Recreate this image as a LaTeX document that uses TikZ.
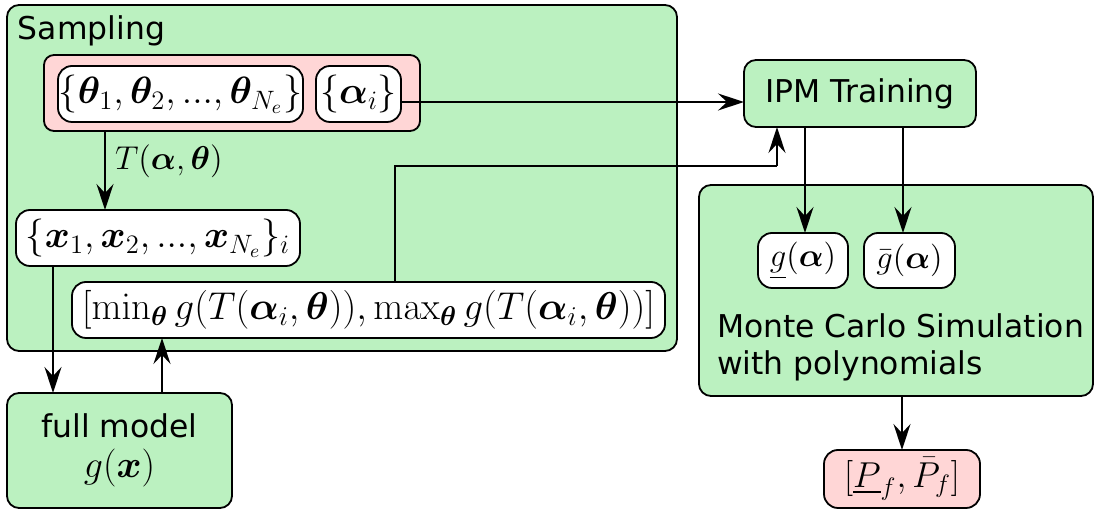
\RequirePackage{fix-cm}
\documentclass[tikz,border=0pt]{standalone}
\usepackage{amsmath,bm}
\usepackage[no-math]{fontspec}
\setmainfont{DejaVu Sans}
\usetikzlibrary{arrows.meta}
\definecolor{boxgreen}{RGB}{187,241,192}
\definecolor{boxpink}{RGB}{255,214,214}
\tikzset{
  px/.style={x=0.5pt,y=-0.5pt},
  frame/.style={draw, line width=0.9pt, rounded corners=6pt, inner sep=0pt, outer sep=0pt},
  greenbox/.style={frame, fill=boxgreen},
  pinkbox/.style={frame, fill=boxpink, rounded corners=5pt},
  whitebox/.style={frame, fill=white, rounded corners=7pt},
  bigmath/.style={font=\fontsize{19}{23}\selectfont},
  txt/.style={inner sep=0pt, outer sep=0pt},
  arr/.style={line width=0.9pt, -{Stealth[length=13pt,width=8.5pt,inset=4.5pt]}},
  conn/.style={line width=0.9pt},
}
\begin{document}
\begin{tikzpicture}[px, font=\fontsize{15.7}{19}\selectfont]
\useasboundingbox (0,0) rectangle (1094,512);

% sampling stage
\node[greenbox, minimum width=335pt, minimum height=173pt] (samp) at (342,178) {};
\node[txt, anchor=base west] (samplbl) at (18,40) {Sampling};
\node[pinkbox, minimum width=188pt, minimum height=38pt] (pink) at (232,93) {};
\node[whitebox, bigmath, minimum width=122.5pt, minimum height=28pt] (theta) at (180.5,94)
  {$\{\bm{\theta}_1,\bm{\theta}_2,...,\bm{\theta}_{N_e}\}$};
\node[whitebox, bigmath, minimum width=42.5pt, minimum height=28pt] (alpha) at (358.5,94)
  {$\{\bm{\alpha}_i\}$};
\node[whitebox, bigmath, minimum width=142pt, minimum height=28pt] (xset) at (158,238)
  {$\{\bm{x}_1,\bm{x}_2,...,\bm{x}_{N_e}\}_i$};
\node[whitebox, font=\fontsize{19.4}{23}\selectfont, minimum width=296.5pt, minimum height=28pt] (mm) at (368.5,310)
  {$[\min_{\bm{\theta}} g(T(\bm{\alpha}_i,\bm{\theta})),\max_{\bm{\theta}} g(T(\bm{\alpha}_i,\bm{\theta}))]$};

% full model
\node[greenbox, minimum width=112.5pt, minimum height=57.5pt, align=center] (full) at (119.5,450.5)
  {full model\\[1pt]{\fontsize{19}{23}\selectfont$g(\bm{x})$}};

% surrogate training and simulation
\node[greenbox, minimum width=116pt, minimum height=33.5pt] (ipm) at (860,93.5) {IPM Training};
\node[greenbox, minimum width=197pt, minimum height=105.5pt] (mc) at (896,290.5) {};
\node[whitebox, font=\fontsize{16.3}{20}\selectfont, minimum width=45pt, minimum height=27.5pt] (glow) at (803,260.5)
  {$\underline{g}(\bm{\alpha})$};
\node[whitebox, font=\fontsize{16.3}{20}\selectfont, minimum width=45.5pt, minimum height=27.5pt] (gup) at (909.5,260.5)
  {$\bar{g}(\bm{\alpha})$};
\node[txt, anchor=base west] (mcl1) at (717,338) {Monte Carlo Simulation};
\node[txt, anchor=base west] (mcl2) at (717,375) {with polynomials};
\node[pinkbox, rounded corners=7pt, font=\fontsize{18}{22}\selectfont, minimum width=78pt, minimum height=29pt] (pf) at (902,479)
  {$[\underline{P}_f,\bar{P}_f]$};

% connector guide points
\coordinate (xT) at (105,0);
\coordinate (xdown) at (53,0);
\coordinate (xup) at (162,0);
\coordinate (xfb) at (395,0);
\coordinate (fbcorner) at (777,166);
\coordinate (yalpha) at (0,102);
\coordinate (xlow) at (805,0);
\coordinate (xhigh) at (903,0);
\coordinate (xpf) at (902,0);

% connectors
\draw[arr] (pink.south -| xT) -- node[txt, pos=0.38, anchor=west, xshift=5pt, font=\fontsize{16.5}{20}\selectfont] (tlbl) {$T(\bm{\alpha},\bm{\theta})$} (xset.north -| xT);
\draw[arr] (xset.south -| xdown) -- (full.north -| xdown);
\draw[arr] (full.north -| xup) -- (mm.south -| xup);
\draw[conn] (mm.north -| xfb) |- (fbcorner);
\draw[arr] (fbcorner) -- (ipm.south -| fbcorner);
\draw[arr] (alpha.east |- yalpha) -- (ipm.west |- yalpha);
\draw[arr] (ipm.south -| xlow) -- (glow.north -| xlow);
\draw[arr] (ipm.south -| xhigh) -- (gup.north -| xhigh);
\draw[arr] (mc.south -| xpf) -- (pf.north -| xpf);
\end{tikzpicture}
\end{document}
